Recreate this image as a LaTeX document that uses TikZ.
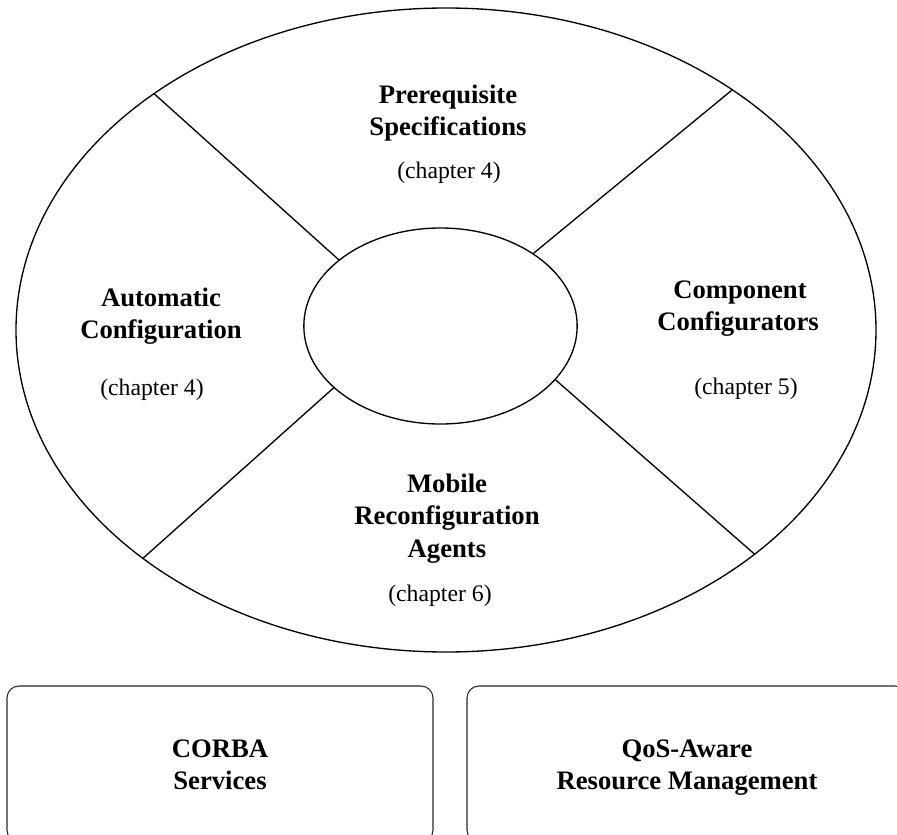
\documentclass[tikz,border=0pt]{standalone}
\usepackage{fontspec}
\setmainfont{Liberation Serif}
\usetikzlibrary{shapes.geometric}
\begin{document}
\begin{tikzpicture}[x=0.75pt,y=-0.75pt,
  ring/.style={draw,ellipse,line width=1pt,inner sep=0pt,outer sep=0pt},
  spoke/.style={line width=1pt},
  layerbox/.style={draw=black!85,line width=0.8pt,rounded corners=9pt,
    minimum height=117pt,inner sep=0pt},
  title/.style={font=\fontsize{20pt}{24pt}\selectfont\bfseries,anchor=base,inner sep=0pt},
  chap/.style={font=\fontsize{17.8pt}{24pt}\selectfont,anchor=base,inner sep=0pt}]
\useasboundingbox (0,0) rectangle (897,835);
\clip (0,0) rectangle (897,835);

% outer ring and hub
\node[ring,minimum width=645pt,minimum height=483pt] (outer) at (446,330) {};
\node[ring,minimum width=205pt,minimum height=147pt] (hub) at (440.5,326) {};

% spokes dividing the ring into four sectors
\draw[spoke] (outer.141) -- (hub.147);
\draw[spoke] (outer.40) -- (hub.38);
\draw[spoke] (outer.217) -- (hub.210);
\draw[spoke] (outer.324.6) -- (hub.335.5);

% top sector
\node[title] (pre1) at (448,103) {Prerequisite};
\node[title] (pre2) at (448,135) {Specifications};
\node[chap]  (pre3) at (449,178) {(chapter 4)};

% left sector
\node[title] (auto1) at (161,306) {Automatic};
\node[title] (auto2) at (161,338) {Configuration};
\node[chap]  (auto3) at (152,395) {(chapter 4)};

% right sector
\node[title] (comp1) at (740,298) {Component};
\node[title] (comp2) at (738,330) {Configurators};
\node[chap]  (comp3) at (746,394) {(chapter 5)};

% bottom sector
\node[title] (mob1) at (447,492) {Mobile};
\node[title] (mob2) at (447,524) {Reconfiguration};
\node[title] (mob3) at (447,557) {Agents};
\node[chap]  (mob4) at (440,601) {(chapter 6)};

% service layers below
\node[layerbox,minimum width=319.5pt] (corba) at (220,764) {};
\node[title] (corba1) at (220,757) {CORBA};
\node[title] (corba2) at (220,789) {Services};
\node[layerbox,minimum width=330pt] (qos) at (687,764) {};
\node[title] (qos1) at (687,757) {QoS-Aware};
\node[title] (qos2) at (687,789) {Resource Management};
\end{tikzpicture}
\end{document}
